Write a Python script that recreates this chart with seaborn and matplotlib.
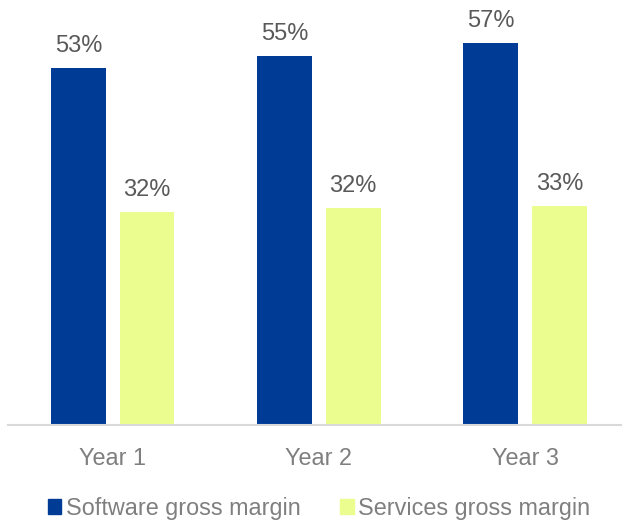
import matplotlib
matplotlib.use("Agg")
import matplotlib.pyplot as plt
import matplotlib.patches as mpatches
import seaborn as sns
import pandas as pd

years = ["Year 1", "Year 2", "Year 3"]
series_names = ["Software gross margin", "Services gross margin"]
software = [53.2, 55.0, 56.9]
services = [31.8, 32.3, 32.6]
colors = ["#003C96", "#EBFD8E"]

df = pd.DataFrame({
    "year": years * 2,
    "series": [series_names[0]] * 3 + [series_names[1]] * 3,
    "value": software + services,
})

sns.set_theme(style="white")
plt.rcParams["font.family"] = ["Liberation Sans", "DejaVu Sans"]

W, H = 622, 520
fig = plt.figure(figsize=(W / 100, H / 100), dpi=100)
ax = fig.add_axes([8 / W, (H - 425) / H, 1 - 8 / W, 425 / H])

sns.barplot(data=df, x="year", y="value", hue="series", order=years,
            hue_order=series_names, palette=colors, width=0.665, gap=0.2,
            ax=ax, legend=False, saturation=1, linewidth=0)

for cont in ax.containers:
    ax.bar_label(cont, labels=[f"{v:.0f}%" for v in cont.datavalues],
                 padding=8, fontsize=17, color="#595959")

ax.set_xlim(-0.508, 2.470)
ax.set_ylim(0, 425 / 6.71)
ax.set_xlabel("")
ax.set_ylabel("")
ax.set_yticks([])
for s in ["top", "right", "left"]:
    ax.spines[s].set_visible(False)
ax.spines["bottom"].set_color("#D9D9D9")
ax.spines["bottom"].set_linewidth(1.5)
ax.tick_params(axis="x", length=0, pad=15.5, labelsize=16.8, labelcolor="#7F7F7F")

handles = [mpatches.Patch(color=c, label=n) for c, n in zip(colors, series_names)]
fig.legend(handles=handles, loc="center", bbox_to_anchor=(319 / W, 1 - 508 / H),
           ncol=2, frameon=False, fontsize=16.8, labelcolor="#7F7F7F",
           handlelength=0.58, handleheight=0.58, handletextpad=0.2,
           columnspacing=1.7, borderpad=0, borderaxespad=0)

fig.savefig("out.png", dpi=100)
